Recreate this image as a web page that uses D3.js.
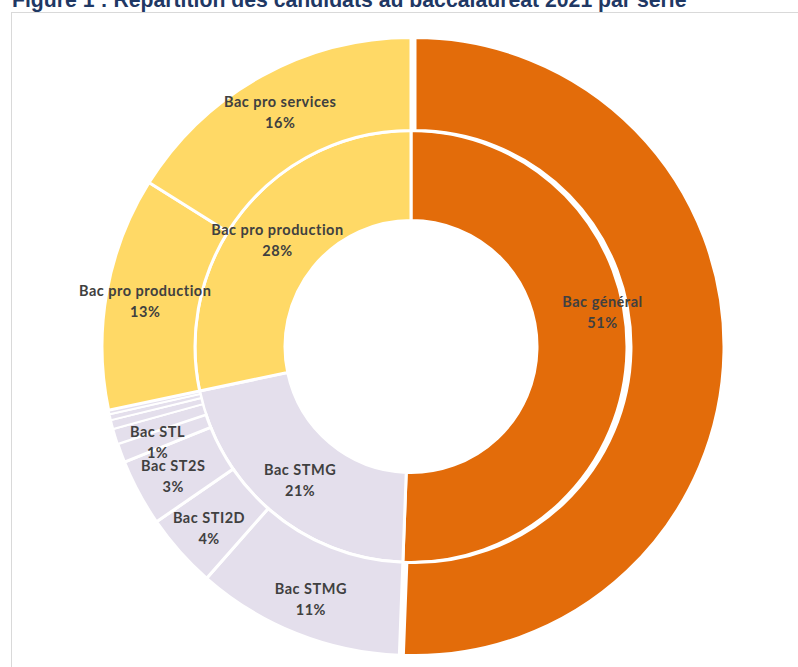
<!DOCTYPE html>
<html>
<head>
<meta charset="utf-8">
<script src="https://cdn.jsdelivr.net/npm/d3@7"></script>
<style>
body{margin:0;background:#fff}
svg{display:block}
</style>
</head>
<body>
<svg width="798" height="667"></svg>
<script>
// anneau intérieur : voies
var innerNames = ["Bac général", "Bac STMG", "Bac pro production"]
var innerPct = [50.6, 21.1, 28.3]
var innerText = ["51%", "21%", "28%"]
var innerColors = ["#E36C0A", "#E4DFEC", "#FFD966"]

// anneau extérieur : séries
var outerNames = ["Bac général", "Bac STMG", "Bac STI2D", "Bac ST2S", "Bac STL", "Bac STAV", "Bac STD2A", "Bac STHR", "Bac S2TMD", "Bac pro production", "Bac pro services"]
var outerPct = [50.6, 10.9, 3.9, 3.5, 1.0, 0.8, 0.47, 0.31, 0.22, 12.2, 16.1]
var outerText = ["", "11%", "4%", "3%", "1%", "", "", "", "", "13%", "16%"]
var outerColors = ["#E36C0A", "#E4DFEC", "#E4DFEC", "#E4DFEC", "#E4DFEC", "#E4DFEC", "#E4DFEC", "#E4DFEC", "#E4DFEC", "#FFD966", "#FFD966"]

var titre = "Figure 1 : Répartition des candidats au baccalauréat 2021 par série"

var svg = d3.select("svg")
var cx = 411, cy = 346.5

svg.append("rect")
    .attr("x", 11.5)
    .attr("y", 12.5)
    .attr("width", 800)
    .attr("height", 700)
    .attr("fill", "none")
    .attr("stroke", "#d9d9d9")
    .attr("stroke-width", 1)

var t = svg.append("text")
    .attr("x", 12)
    .attr("y", 7)
    .attr("fill", "#1F3864")
    .style("font-family", "Arial, 'Liberation Sans', sans-serif")
    .style("font-weight", "bold")
    .style("font-size", "18px")
    .text(titre)
var w = t.node().getComputedTextLength()
t.style("font-size", (18 * 675 / w) + "px")

var pie = d3.pie().sort(null).value(function(d){ return d })
var g = svg.append("g").attr("transform", "translate(" + cx + "," + cy + ")")

var innerArc = d3.arc().innerRadius(126).outerRadius(216)
var outerArc = d3.arc().innerRadius(216).outerRadius(309)

var innerData = pie(innerPct)
var outerData = pie(outerPct)

g.selectAll("path.in")
    .data(innerData)
    .enter().append("path")
    .attr("class", "in")
    .attr("d", innerArc)
    .attr("fill", function(d, i){ return innerColors[i] })
    .attr("stroke", "#fff")
    .attr("stroke-width", 3)

g.selectAll("path.out")
    .data(outerData)
    .enter().append("path")
    .attr("class", "out")
    .attr("d", outerArc)
    .attr("fill", function(d, i){ return outerColors[i] })
    .attr("stroke", "#fff")
    .attr("stroke-width", function(d, i){ return i >= 5 && i <= 8 ? 2 : 3 })
    .attr("transform", function(d, i){
        if (i !== 0) return null
        var a = (d.startAngle + d.endAngle) / 2
        return "translate(" + (4 * Math.sin(a)) + "," + (-4 * Math.cos(a)) + ")"
    })

function labelPos(d, r, turn){
    var a = (d.startAngle + d.endAngle) / 2 + turn * Math.PI / 180
    return [r * Math.sin(a), -r * Math.cos(a)]
}

function addLabel(p, name, pct){
    var lab = g.append("text")
        .attr("text-anchor", "middle")
        .attr("fill", "#404040")
        .style("font-family", "Lato, 'Open Sans', sans-serif")
        .style("font-weight", "bold")
        .style("font-size", "14.5px")
        .style("letter-spacing", "0.5px")
    lab.append("tspan").attr("x", p[0]).attr("y", p[1] - 3).text(name)
    lab.append("tspan").attr("x", p[0]).attr("y", p[1] + 18).text(pct)
}

var innerTurn = [-12, 0, 0]
var innerR = [195, 172, 172]
innerData.forEach(function(d, i){
    addLabel(labelPos(d, innerR[i], innerTurn[i]), innerNames[i], innerText[i])
})
outerData.forEach(function(d, i){
    if (outerText[i] === "") return
    addLabel(labelPos(d, 270, 0), outerNames[i], outerText[i])
})
</script>
</body>
</html>
